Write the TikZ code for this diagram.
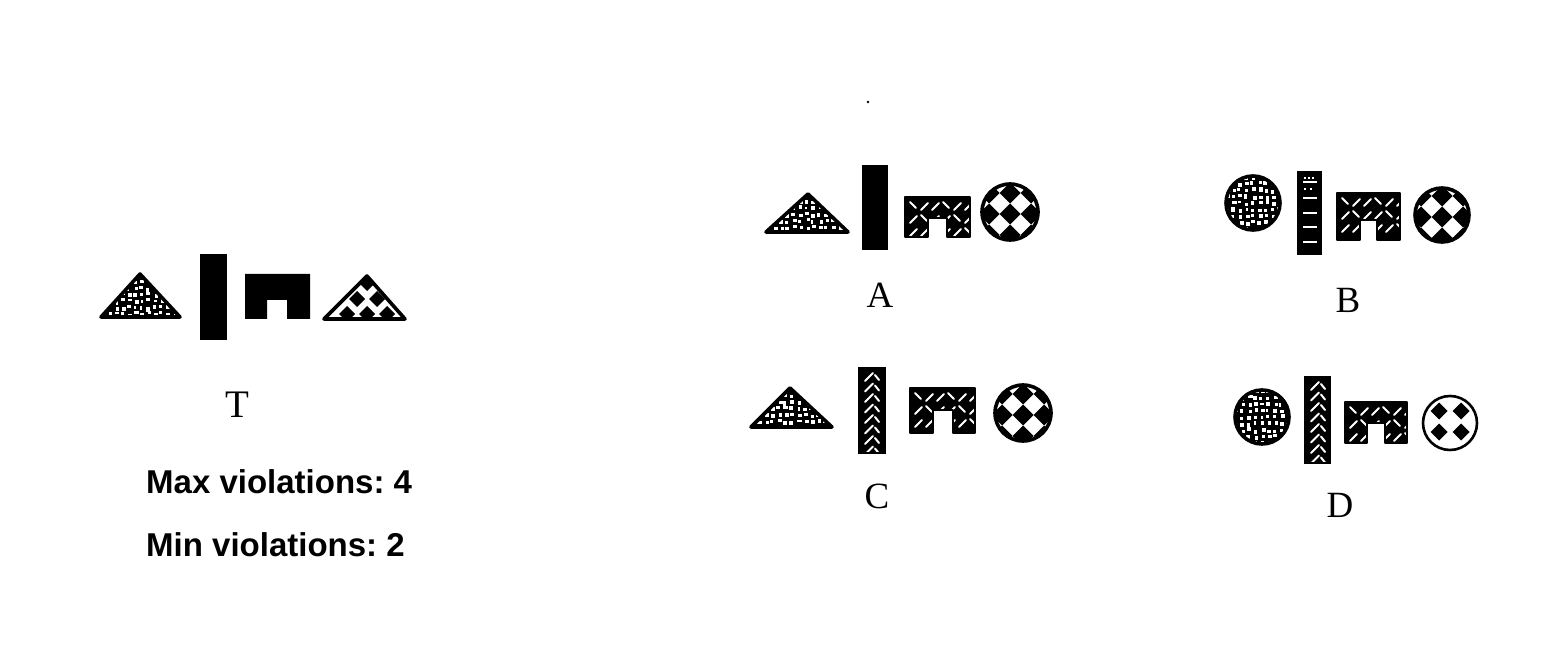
\documentclass[tikz,border=0pt]{standalone}
\usepackage{fontspec}
\setmainfont{Liberation Serif}
\newfontfamily\violfont{Liberation Sans}
\frenchspacing
\tikzset{
  outl/.style={line width=3.6, line join=round},
  lab/.style={font=\fontsize{37}{40}\selectfont, inner sep=0},
  viol/.style={font=\violfont\bfseries\fontsize{33}{36}\selectfont, anchor=base west, inner sep=0},
  wdash/.style={white, line width=2, line cap=round},
}
% dotted (black with white spots) region; #1 path, #2 x0, #3 y0, #4 nx, #5 ny
\newcommand\spotshape[5]{%
  \begin{scope}
    \clip #1;
    \fill #1;
    \foreach \i in {0,...,#4}{\foreach \j in {0,...,#5}{
      \pgfmathsetmacro\sw{2.6+1.8*rnd}
      \pgfmathsetmacro\sh{2.6+1.8*rnd}
      \fill[white] ({#2+6.5*\i+3*rnd},{#3+6.5*\j+3*rnd}) rectangle ++(\sw,\sh);}}
  \end{scope}
  \draw[outl] #1;}
% soccer ball #1 cx #2 cy #3 r
\newcommand\socball[3]{%
  \begin{scope}
    \clip (#1,#2) circle[radius=#3];
    \fill[white] (#1,#2) circle[radius=#3];
    \foreach \p in {-2,...,2}{\foreach \q in {-2,...,2}{
      \fill ({#1+21*\p},{#2+2+21*\q}) ++(0,-10.5) -- ++(10.5,10.5) -- ++(-10.5,10.5) -- ++(-10.5,-10.5) -- cycle;}}
  \end{scope}
  \draw[line width=3.6] (#1,#2) circle[radius=#3];}
% arch with white dashes: #1 x0 #2 y0 #3 x1 #4 y1 #5 nx0 #6 nx1 #7 ny
\newcommand\archpat[7]{%
  \begin{scope}
    \clip (#1,#2)--(#3,#2)--(#3,#4)--(#6,#4)--(#6,#7)--(#5,#7)--(#5,#4)--(#1,#4)--cycle;
    \fill (#1,#2)--(#3,#2)--(#3,#4)--(#6,#4)--(#6,#7)--(#5,#7)--(#5,#4)--(#1,#4)--cycle;
    \foreach \i in {0,...,5}{\foreach \j in {0,...,2}{
      \pgfmathtruncatemacro\kk{mod(\i+2*\j,3)}
      \ifnum\kk=0
        \draw[wdash] ({#1+5+11*\i},{#2+5+13*\j}) -- ++(6,6);
      \else
        \draw[wdash] ({#1+5+11*\i},{#2+13+13*\j}) -- ++(7,-7);
      \fi}}
  \end{scope}
  \draw[line width=2.4, line join=round] (#1,#2)--(#3,#2)--(#3,#4)--(#6,#4)--(#6,#7)--(#5,#7)--(#5,#4)--(#1,#4)--cycle;}
% chevron bar: #1 x0 #2 y0 #3 x1 #4 y1
\newcommand\chevbar[4]{%
  \begin{scope}
    \clip (#1,#2) rectangle (#3,#4);
    \fill (#1,#2) rectangle (#3,#4);
    \foreach \k in {0,...,7}{
      \draw[wdash] ({#1+6},{#2+13+10.5*\k}) -- ++(8,-8);
      \draw[wdash] ({#1+16},{#2+7+10.5*\k}) -- ++(4,5);}
  \end{scope}
  \draw[line width=2.4] (#1,#2) rectangle (#3,#4);}
\begin{document}
\begin{tikzpicture}[x=1pt,y=-1pt]
\useasboundingbox (0,0) rectangle (1556,660);
\pgfmathsetseed{11}
% ---------- T ----------
\spotshape{(101,317)--(180,317)--(140,274)--cycle}{100}{272}{12}{7}
\fill (200,254) rectangle (227,340);
\fill (245,274)--(310,274)--(310,319)--(287,319)--(287,300)--(267,300)--(267,319)--(245,319)--cycle;
\begin{scope}
  \clip (324,319)--(405,319)--(367,276)--cycle;
  \fill[white] (324,319)--(405,319)--(367,276)--cycle;
  \foreach \dx/\dy in {367/283,357/299,377/299,347/314,367/314,387/314}{
    \fill (\dx,\dy-8) -- (\dx+8,\dy) -- (\dx,\dy+8) -- (\dx-8,\dy) -- cycle;}
\end{scope}
\draw[outl] (324,319)--(405,319)--(367,276)--cycle;
\node[lab, font=\fontsize{39}{42}\selectfont] (labT) at (237,405) {T};
\node[viol] (maxv) at (146,493) {Max violations: 4};
\node[viol] (minv) at (146,556) {Min violations: 2};
% ---------- A ----------
\spotshape{(766,232)--(848,232)--(808,194)--cycle}{765}{192}{13}{6}
\fill (862,165) rectangle (888,250);
\archpat{905}{197}{970}{237}{928}{947}{218}
\socball{1010}{212}{28}
\node[lab] (labA) at (880,295) {A};
% ---------- B ----------
\spotshape{(1253,203) circle[radius=27]}{1224}{174}{9}{9}
\fill (1297,171) rectangle (1322,255);
\foreach \yy in {182,198,213,227,242}{\draw[white, line width=1.6] (1303,\yy) -- (1317,\yy);}
\foreach \xx in {1304,1308,1312}{\fill[white] (\xx,177) rectangle ++(2,1.6);}
\foreach \xx in {1304,1310}{\fill[white] (\xx,188) rectangle ++(2,1.6);}
\archpat{1337}{193}{1400}{240}{1360}{1377}{220}
\socball{1442}{215}{27}
\node[lab] (labB) at (1348,300) {B};
% ---------- C ----------
\spotshape{(751,427)--(832,427)--(790,388)--cycle}{750}{386}{13}{6}
\chevbar{859}{368}{885}{453}
\archpat{910}{388}{975}{433}{933}{953}{410}
\socball{1023}{413}{28}
\node[lab] (labC) at (877,496) {C};
% ---------- D ----------
\spotshape{(1262,417) circle[radius=27]}{1233}{388}{9}{9}
\chevbar{1305}{377}{1330}{463}
\archpat{1345}{402}{1407}{443}{1367}{1385}{423}
\fill[white] (1450,423) circle[radius=27];
\foreach \dx/\dy in {-11/-12,11/-12,-11/9,11/9}{
  \fill (1450+\dx,423+\dy-8.5) -- (1450+\dx+8.5,423+\dy) -- (1450+\dx,423+\dy+8.5) -- (1450+\dx-8.5,423+\dy) -- cycle;}
\draw[line width=2.6] (1450,423) circle[radius=27];
\node[lab] (labD) at (1340,505) {D};
% stray dot
\fill (868,102) circle[radius=1.3];
\end{tikzpicture}
\end{document}
